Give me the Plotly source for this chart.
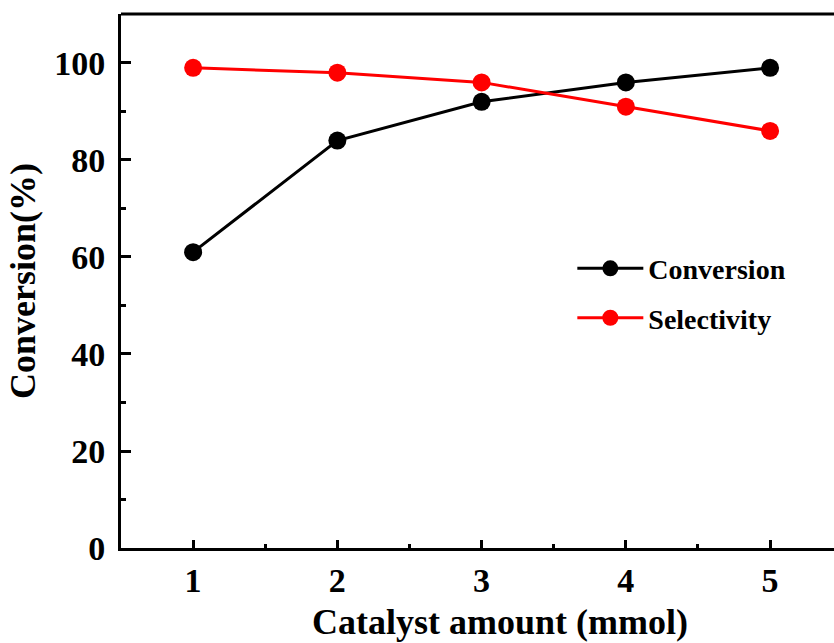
import plotly.graph_objects as go

# Catalyst loading (mmol) and measured performance (%)
catalyst_amount = [1, 2, 3, 4, 5]
conversion = [61, 84, 92, 96, 99]
selectivity = [99, 98, 96, 91, 86]

x_ticks = [1, 2, 3, 4, 5]
y_ticks = [0, 20, 40, 60, 80, 100]

FONT = "Liberation Serif"

fig = go.Figure()
fig.add_trace(go.Scatter(
    x=catalyst_amount, y=conversion, name="Conversion",
    legendgroup="conv",
    mode="lines+markers",
    line=dict(color="black", width=3),
    marker=dict(color="black", size=18),
))
fig.add_trace(go.Scatter(
    x=catalyst_amount, y=selectivity, name="Selectivity",
    legendgroup="sel",
    mode="lines+markers",
    line=dict(color="#ff0000", width=3),
    marker=dict(color="#ff0000", size=18),
))

fig.update_layout(
    width=834, height=643,
    margin=dict(l=121, r=0, t=14, b=95),
    paper_bgcolor="white", plot_bgcolor="white",
    font=dict(family=FONT, color="black", weight="bold"),
    showlegend=True,
    legend=dict(
        x=0.633, y=0.57, xanchor="left", yanchor="top",
        bgcolor="rgba(0,0,0,0)",
        font=dict(family=FONT, size=28, color="black", weight="bold"),
        itemwidth=66, traceorder="grouped", tracegroupgap=10,
    ),
    xaxis=dict(
        range=[0.5, 5.443],
        tickmode="array", tickvals=x_ticks, ticktext=[str(v) for v in x_ticks],
        ticks="inside", ticklen=8, tickwidth=3, tickcolor="black",
        minor=dict(ticks="inside", ticklen=4, tickwidth=3, tickcolor="black",
                   tickmode="array", tickvals=[1.5, 2.5, 3.5, 4.5]),
        showline=True, linecolor="black", linewidth=3,
        showgrid=False, zeroline=False,
        tickfont=dict(family=FONT, size=34, color="black", weight="bold"),
    ),
    yaxis=dict(
        range=[0, 110.1],
        tickmode="array", tickvals=y_ticks, ticktext=[str(v) for v in y_ticks],
        ticks="inside", ticklen=10, tickwidth=3, tickcolor="black",
        minor=dict(ticks="inside", ticklen=5, tickwidth=3, tickcolor="black",
                   tickmode="array", tickvals=[10, 30, 50, 70, 90]),
        showline=True, linecolor="black", linewidth=3,
        showgrid=False, zeroline=False,
        ticklabelstandoff=6,
        tickfont=dict(family=FONT, size=34, color="black", weight="bold"),
        title=dict(text="Conversion(%)", standoff=8,
                   font=dict(family=FONT, size=36, color="black", weight="bold")),
    ),
    annotations=[dict(
        text="Catalyst amount (mmol)", xref="paper", yref="paper",
        x=0.5316, y=-0.138, xanchor="center", yanchor="middle",
        showarrow=False,
        font=dict(family=FONT, size=36, color="black", weight="bold"),
    )],
    shapes=[dict(type="line", xref="paper", yref="paper",
                 x0=0, x1=1, y0=1, y1=1,
                 line=dict(color="black", width=3))],
)

fig.write_html("out.html")
